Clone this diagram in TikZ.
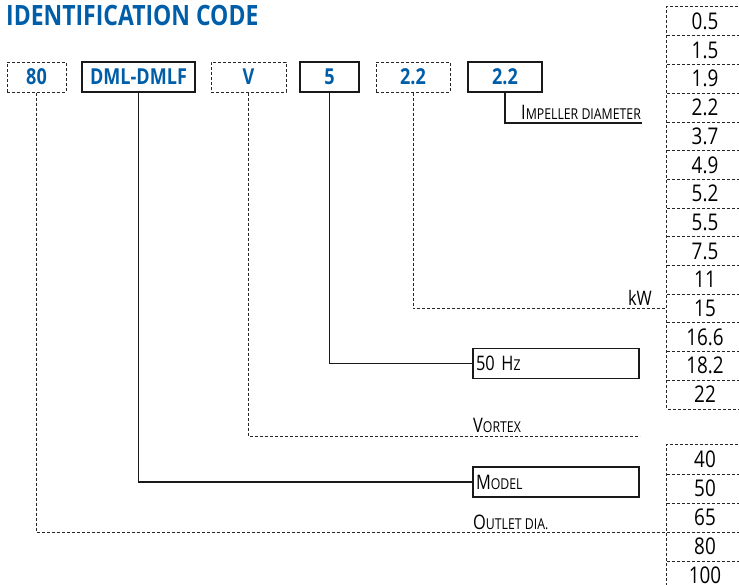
\documentclass[tikz,border=0pt]{standalone}
\usepackage{fontspec}
\setmainfont{Open Sans}[FakeStretch=0.82]
\usepackage{xcolor}
\usepackage{tikz}
\usetikzlibrary{positioning, calc}

\definecolor{codeblue}{RGB}{0,94,168}
\newcommand{\fakesc}[2]{#1{\fontsize{15}{15}\selectfont #2}}

\begin{document}
\begin{tikzpicture}[
    x=1pt, y=-1pt,
    dline/.style={draw=black!85, line width=1pt, dash pattern=on 3pt off 2pt},
    sline/.style={draw=black!90, line width=1.2pt},
    codebox/.style={inner sep=0pt, minimum height=30pt, font=\fontsize{22}{22}\selectfont\bfseries, text=codeblue},
    dbox/.style={codebox, dline},
    sbox/.style={codebox, sline},
    row/.style={inner sep=0pt, minimum width=76pt, minimum height=28.7pt, font=\fontsize{23}{23}\selectfont},
    row2/.style={row, minimum height=29pt},
    lbl/.style={inner sep=0pt, font=\fontsize{20}{20}\selectfont},
    lblbox/.style={sline, inner sep=0pt, minimum width=166pt, minimum height=30pt, text width=160pt, align=left, font=\fontsize{20}{20}\selectfont},
]
\useasboundingbox (0,0) rectangle (739,584);

% Title
\node[anchor=base west, inner sep=0pt, font=\fontsize{28}{28}\selectfont\bfseries, text=codeblue] (title) at (6,25) {IDENTIFICATION CODE};

% Code boxes
\node[dbox, minimum width=59pt] (b80) at (36.5,77) {80};
\node[sbox, minimum width=113pt] (bmodel) at (138.5,77) {DML-DMLF};
\node[dbox, minimum width=75pt] (bv) at (248.5,77) {V};
\node[sbox, minimum width=59pt] (b5) at (329.5,77) {5};
\node[dbox, minimum width=74pt] (bkw) at (413,77) {2.2};
\node[sbox, minimum width=74pt] (bimp) at (505,77) {2.2};

% Power column
\node[row] (c05) at (705,21.35) {0.5};
\node[row] (c15a) at (705,50.05) {1.5};
\node[row] (c19) at (705,78.75) {1.9};
\node[row] (c22a) at (705,107.45) {2.2};
\node[row] (c37) at (705,136.15) {3.7};
\node[row] (c49) at (705,164.85) {4.9};
\node[row] (c52) at (705,193.55) {5.2};
\node[row] (c55) at (705,222.25) {5.5};
\node[row] (c75) at (705,250.95) {7.5};
\node[row] (c11) at (705,279.65) {11};
\node[row] (c15) at (705,308.35) {15};
\node[row] (c166) at (705,337.05) {16.6};
\node[row] (c182) at (705,365.75) {18.2};
\node[row] (c22) at (705,394.45) {22};
\draw[dline] (c05.north east) -- (c05.north west) -- (c22.south west) -- (c22.south east);
\draw[dline] (c05.south west) -- (c05.south east);
\draw[dline] (c15a.south west) -- (c15a.south east);
\draw[dline] (c19.south west) -- (c19.south east);
\draw[dline] (c22a.south west) -- (c22a.south east);
\draw[dline] (c37.south west) -- (c37.south east);
\draw[dline] (c49.south west) -- (c49.south east);
\draw[dline] (c52.south west) -- (c52.south east);
\draw[dline] (c55.south west) -- (c55.south east);
\draw[dline] (c75.south west) -- (c75.south east);
\draw[dline] (c11.south west) -- (c11.south east);
\draw[dline] (c15.south west) -- (c15.south east);
\draw[dline] (c166.south west) -- (c166.south east);
\draw[dline] (c182.south west) -- (c182.south east);

% Outlet column
\node[row2] (c40) at (705,459.5) {40};
\node[row2] (c50) at (705,488.5) {50};
\node[row2] (c65) at (705,517.5) {65};
\node[row2] (c80) at (705,546.5) {80};
\node[row2] (c100) at (705,575.5) {100};
\draw[dline] (c40.north east) -- (c40.north west) -- (c100.south west);
\draw[dline] (c40.south west) -- (c40.south east);
\draw[dline] (c50.south west) -- (c50.south east);
\draw[dline] (c65.south west) -- (c65.south east);
\draw[dline] (c80.south west) -- (c80.south east);

% Labels
\node[lbl, anchor=south west] (limp) at (521,120) {\fakesc{I}{MPELLER DIAMETER}};
\node[lbl, anchor=south east] (lkw) at (652,306) {kW};
\node[lblbox] (lhz) at (556,363.5) {50 H\fontsize{15}{15}\selectfont Z};
\node[lbl, anchor=south west] (lvortex) at (473,433) {\fakesc{V}{ORTEX}};
\node[lblbox] (lmodel) at (556,482) {\fakesc{M}{ODEL}};
\node[lbl, anchor=south west] (loutlet) at (473,530) {\fakesc{O}{UTLET DIA.}};
\coordinate (impend) at (642,123);
\coordinate (vortexend) at (640,436);

% Connectors
\draw[sline] (bimp.south) |- (impend);
\draw[dline] (bkw.south) |- (c15.west);
\draw[sline] (b5.south) |- (lhz.west);
\draw[dline] (bv.south) |- (vortexend);
\draw[sline] (bmodel.south) |- (lmodel.west);
\draw[dline] (b80.south) |- (c65.south west);

\end{tikzpicture}
\end{document}
